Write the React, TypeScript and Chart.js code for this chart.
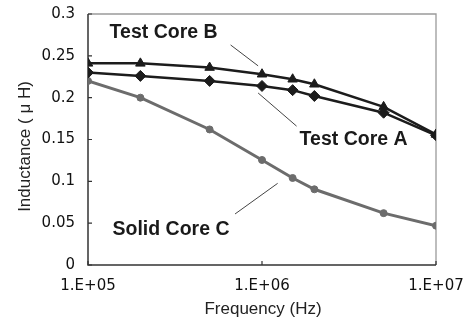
import React, { useEffect, useRef } from "react";
import { Chart, registerables } from "chart.js";

Chart.register(...registerables);

const frequencies = [1e5, 2e5, 5e5, 1e6, 1.5e6, 2e6, 5e6, 1e7];
const testCoreA = [0.23, 0.226, 0.22, 0.214, 0.209, 0.202, 0.182, 0.155];
const testCoreB = [0.241, 0.241, 0.236, 0.228, 0.222, 0.216, 0.189, 0.156];
const solidCoreC = [0.22, 0.2, 0.162, 0.1255, 0.104, 0.0905, 0.062, 0.047];
const xTickValues = [1e5, 1e6, 1e7];
const yTickLabels = ["0", "0.05", "0.1", "0.15", "0.2", "0.25", "0.3"];

const annotations = [
  { text: "Test Core B", x: 2.72e5, y: 0.2773, line: [[6.6e5, 0.263], [9.5e5, 0.238]] },
  { text: "Test Core A", x: 3.36e6, y: 0.15, line: [[9.5e5, 0.2056], [1.58e6, 0.166]] },
  { text: "Solid Core C", x: 3.0e5, y: 0.0424, line: [[7.0e5, 0.061], [1.23e6, 0.0976]] },
];

const decor = {
  id: "decor",
  beforeDatasetsDraw(chart: any) {
    const { ctx, chartArea: a, scales } = chart;
    ctx.save();
    ctx.strokeStyle = "#9a9a9a";
    ctx.lineWidth = 1.3;
    ctx.beginPath();
    ctx.moveTo(a.left, a.top);
    ctx.lineTo(a.right, a.top);
    ctx.lineTo(a.right, a.bottom);
    ctx.stroke();
    ctx.strokeStyle = "#333";
    ctx.lineWidth = 1.5;
    ctx.beginPath();
    ctx.moveTo(a.left, a.top);
    ctx.lineTo(a.left, a.bottom);
    ctx.lineTo(a.right, a.bottom);
    ctx.stroke();
    ctx.lineWidth = 1.2;
    ctx.beginPath();
    scales.y.ticks.forEach((t: any) => {
      const y = scales.y.getPixelForValue(t.value);
      ctx.moveTo(a.left, y);
      ctx.lineTo(a.left + 4, y);
    });
    xTickValues.forEach((v) => {
      const x = scales.x.getPixelForValue(v);
      ctx.moveTo(x, a.bottom);
      ctx.lineTo(x, a.bottom - 4);
    });
    ctx.stroke();
    ctx.restore();
  },
  afterDraw(chart: any) {
    const { ctx, chartArea: a, scales } = chart;
    ctx.save();
    ctx.strokeStyle = "#444";
    ctx.lineWidth = 1;
    annotations.forEach((an) => {
      ctx.beginPath();
      ctx.moveTo(scales.x.getPixelForValue(an.line[0][0]), scales.y.getPixelForValue(an.line[0][1]));
      ctx.lineTo(scales.x.getPixelForValue(an.line[1][0]), scales.y.getPixelForValue(an.line[1][1]));
      ctx.stroke();
    });
    ctx.fillStyle = "#1a1a1a";
    ctx.font = "bold 19.5px 'Liberation Sans', Arial, sans-serif";
    ctx.textAlign = "center";
    ctx.textBaseline = "middle";
    annotations.forEach((an) => {
      ctx.fillText(an.text, scales.x.getPixelForValue(an.x), scales.y.getPixelForValue(an.y));
    });
    ctx.font = "17px 'Liberation Sans', Arial, sans-serif";
    ctx.fillStyle = "#222";
    ctx.fillText("Frequency (Hz)", (a.left + a.right) / 2 + 1, a.bottom + 44);
    ctx.translate(25.5, (a.top + a.bottom) / 2 + 7);
    ctx.rotate(-Math.PI / 2);
    ctx.fillText("Inductance ( \u03bc H)", 0, 0);
    ctx.restore();
  },
};

export default function App() {
  const ref = useRef<HTMLCanvasElement>(null);
  useEffect(() => {
    if (!ref.current) return;
    const tickFont = { family: "'DejaVu Sans', sans-serif", size: 15 };
    const chart = new Chart(ref.current, {
      type: "line",
      data: {
        datasets: [
          {
            label: "Test Core A",
            data: frequencies.map((f, i) => ({ x: f, y: testCoreA[i] })),
            borderColor: "#1c1c1c",
            backgroundColor: "#1c1c1c",
            borderWidth: 2.5,
            pointStyle: "rectRot",
            pointRadius: 5.5,
            pointBorderWidth: 1,
          },
          {
            label: "Test Core B",
            data: frequencies.map((f, i) => ({ x: f, y: testCoreB[i] })),
            borderColor: "#1c1c1c",
            backgroundColor: "#1c1c1c",
            borderWidth: 2.5,
            pointStyle: "triangle",
            pointRadius: 5.5,
            pointBorderWidth: 1,
          },
          {
            label: "Solid Core C",
            data: frequencies.map((f, i) => ({ x: f, y: solidCoreC[i] })),
            borderColor: "#6c6c6c",
            backgroundColor: "#6c6c6c",
            borderWidth: 3,
            pointStyle: "circle",
            pointRadius: 3.5,
            pointBorderWidth: 1,
          },
        ],
      },
      options: {
        responsive: false,
        animation: false,
        layout: { padding: { top: 14, right: 33, left: 0, bottom: 0 } },
        plugins: { legend: { display: false }, tooltip: { enabled: false } },
        scales: {
          x: {
            type: "logarithmic",
            min: 1e5,
            max: 1e7,
            afterBuildTicks: (s: any) => {
              s.ticks = xTickValues.map((v) => ({ value: v }));
            },
            afterFit: (s: any) => {
              s.height = 59;
              s.paddingLeft = 0;
              s.paddingRight = 0;
            },
            grid: { display: false, drawTicks: false },
            border: { display: false },
            ticks: {
              font: tickFont,
              color: "#111",
              padding: 12,
              maxRotation: 0,
              autoSkip: false,
              callback: (v: any) => "1.E+0" + Math.round(Math.log10(Number(v))),
            },
          },
          y: {
            min: 0,
            max: 0.3,
            afterBuildTicks: (s: any) => {
              s.ticks = yTickLabels.map((l) => ({ value: Number(l) }));
            },
            afterFit: (s: any) => {
              s.width = 88;
              s.paddingTop = 0;
              s.paddingBottom = 0;
            },
            grid: { display: false, drawTicks: false },
            border: { display: false },
            ticks: {
              font: tickFont,
              color: "#111",
              padding: 13,
              callback: (v: any) => yTickLabels.find((l) => Number(l) === Number(v)) ?? "",
            },
          },
        },
      },
      plugins: [decor],
    });
    return () => chart.destroy();
  }, []);
  return (
    <div style={{ position: "fixed", left: 0, top: 0, width: 469, height: 324, background: "#fff" }}>
      <canvas ref={ref} width={469} height={324} />
    </div>
  );
}
